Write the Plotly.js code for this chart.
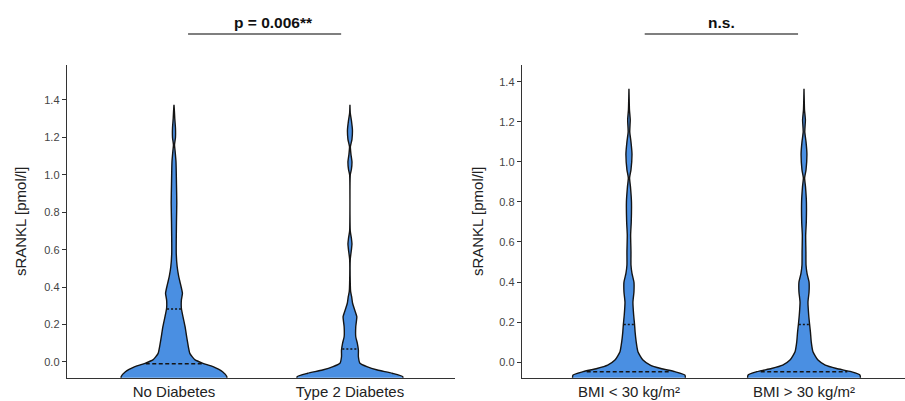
<!DOCTYPE html>
<html>
<head>
<meta charset="utf-8">
<script src="https://cdn.plot.ly/plotly-3.0.1.min.js"></script>
<style>html,body{margin:0;padding:0;background:#fff}#chart{width:905px;height:401px}</style>
</head>
<body>
<div id="chart"></div>
<script>
// ---- categories ----
const leftCategories = ["No Diabetes", "Type 2 Diabetes"];
const rightCategories = ["BMI < 30 kg/m²", "BMI > 30 kg/m²"];
const yTickVals = [0.0, 0.2, 0.4, 0.6, 0.8, 1.0, 1.2, 1.4];
const yTitle = "sRANKL [pmol/l]";
const leftTest = "p = 0.006**";
const rightTest = "n.s.";

// ---- density profiles (sRANKL value, relative density 0-100) ----
const noDiabY = [-0.12,-0.078,-0.052,-0.025,-0.007,0.011,0.046,0.118,0.189,0.242,0.287,0.332,0.367,0.42,0.456,0.51,0.58,0.65,0.75,0.85,0.95,1.07,1.13,1.16,1.2,1.25,1.30,1.34,1.374];
const noDiabD = [100,100,92,74,55,40,30,25,21,17,14,14,16,12,9,6,4.3,4.3,4.7,5.3,4.7,3.8,2,1,2.8,2.8,1.5,0.8,0];

const t2dY = [-0.12,-0.078,-0.06,-0.043,-0.025,-0.007,0.028,0.064,0.1,0.135,0.189,0.242,0.278,0.314,0.349,0.376,0.42,0.55,0.6,0.63,0.66,0.70,1.0,1.03,1.07,1.11,1.15,1.19,1.24,1.29,1.33,1.374];
const t2dD = [100,100,80,52,32,19,16,16,14,11,11,13,9,5,3.2,1.3,0.6,0.6,2.8,3.8,2.8,0.6,0.6,2.8,3.8,1.9,0.8,3.8,4.7,2.8,0.6,0];

const bmiLowY = [-0.12,-0.065,-0.048,-0.032,-0.015,0.01,0.052,0.10,0.15,0.188,0.235,0.30,0.35,0.40,0.443,0.485,0.55,0.635,0.70,0.80,0.875,0.92,0.96,1.04,1.10,1.15,1.21,1.26,1.30,1.365];
const bmiLowD = [100,100,82,57,38,25,16,13,11,10,8.4,7.1,8.9,8.9,5.4,3.6,3.6,3,4.1,4.5,2.7,1.1,3.6,5.4,3.6,1.4,2.3,0.9,0.5,0];

const bmiHighY = [-0.12,-0.065,-0.048,-0.032,-0.015,0.01,0.052,0.10,0.15,0.188,0.235,0.30,0.35,0.40,0.443,0.485,0.55,0.635,0.70,0.80,0.875,0.92,0.96,1.04,1.10,1.15,1.21,1.26,1.30,1.365];
const bmiHighD = [100,100,84,58,38,25,16,13,11.5,10,8.4,7.1,9,9,5.4,3.6,3.4,3,4.1,4.3,2.7,1.1,3.6,5.2,3.6,1.4,2.5,0.9,0.5,0];

// ---- quantiles (25 %, median, 75 %) ----
const noDiabQ = [-0.10, -0.01, 0.283];
const t2dQ = [-0.12, -0.095, 0.07];
const bmiLowQ = [-0.10, -0.048, 0.188];
const bmiHighQ = [-0.10, -0.048, 0.188];

// ---- drawing ----
const FILL = "#4a8fe2";
const EDGE = "#141414";

function interp(ys, ds, v) {
  if (v <= ys[0]) return ds[0];
  for (let i = 1; i < ys.length; i++) {
    if (v <= ys[i]) {
      const t = (v - ys[i-1]) / (ys[i] - ys[i-1]);
      return ds[i-1] + t * (ds[i] - ds[i-1]);
    }
  }
  return ds[ds.length-1];
}

function violin(ys, ds, center, scale, xa, ya) {
  const xs = [], yy = [];
  for (let i = 0; i < ys.length; i++) { xs.push(center + ds[i] / 100 * scale); yy.push(ys[i]); }
  for (let i = ys.length - 1; i >= 0; i--) { xs.push(center - ds[i] / 100 * scale); yy.push(ys[i]); }
  return {type: "scatter", mode: "lines", x: xs, y: yy, xaxis: xa, yaxis: ya,
    fill: "toself", fillcolor: FILL, line: {color: EDGE, width: 1.4, shape: "spline", smoothing: 0.5},
    hoverinfo: "skip", showlegend: false};
}

function quantLines(ys, ds, q, center, scale, xa, ya) {
  const out = [];
  q.forEach((v, k) => {
    const w = interp(ys, ds, v) / 100 * scale * 0.92;
    out.push({type: "scatter", mode: "lines", x: [center - w, center + w], y: [v, v], xaxis: xa, yaxis: ya,
      line: {color: EDGE, width: 1.5, dash: k === 1 ? "4px,2.5px" : "2px,2px"},
      hoverinfo: "skip", showlegend: false});
  });
  return out;
}

const LS = 0.30, RS = 0.32;
const traces = [
  violin(noDiabY, noDiabD, 0, LS, "x", "y"),
  violin(t2dY, t2dD, 1, LS, "x", "y"),
  violin(bmiLowY, bmiLowD, 0, RS, "x2", "y2"),
  violin(bmiHighY, bmiHighD, 1, RS, "x2", "y2"),
  ...quantLines(noDiabY, noDiabD, noDiabQ, 0, LS, "x", "y"),
  ...quantLines(t2dY, t2dD, t2dQ, 1, LS, "x", "y"),
  ...quantLines(bmiLowY, bmiLowD, bmiLowQ, 0, RS, "x2", "y2"),
  ...quantLines(bmiHighY, bmiHighD, bmiHighQ, 1, RS, "x2", "y2")
];

const FONT = "Liberation Sans, Arial, sans-serif";
const yDomain = [1 - 377.7/401, 1 - 65/401];

function xAxis(domain, range, cats) {
  return {domain: domain, range: range, tickvals: [0, 1], ticktext: cats,
    showline: true, linecolor: "#333", linewidth: 1.3, ticks: "", zeroline: false, showgrid: false,
    tickfont: {family: FONT, size: 15, color: "#222"}, fixedrange: true};
}
function yAxis(domain, range, anchor, standoff) {
  return {domain: domain, range: range, anchor: anchor, tickvals: yTickVals, tickformat: ".1f",
    showline: true, linecolor: "#333", linewidth: 1.3, ticks: "outside", ticklen: 4, tickcolor: "#333",
    zeroline: false, showgrid: false, tickfont: {family: FONT, size: 11, color: "#444"},
    title: {text: yTitle, font: {family: FONT, size: 15, color: "#222"}, standoff: standoff}, fixedrange: true};
}

const layout = {
  width: 905, height: 401,
  margin: {l: 0, r: 0, t: 0, b: 0},
  paper_bgcolor: "#fff", plot_bgcolor: "#fff",
  xaxis: Object.assign(xAxis([67/905, 455/905], [-0.608, 1.597], leftCategories), {anchor: "y"}),
  yaxis: yAxis(yDomain, [-0.084, 1.587], "x", 14),
  xaxis2: Object.assign(xAxis([522/905, 1], [-0.611, 1.577], rightCategories), {anchor: "y2"}),
  yaxis2: yAxis(yDomain, [-0.078, 1.484], "x2", 12),
  shapes: [
    {type: "line", xref: "x", yref: "paper", x0: 0.08, x1: 0.95, y0: 1 - 34/401, y1: 1 - 34/401, line: {color: "#555", width: 1.5}},
    {type: "line", xref: "x2", yref: "paper", x0: 0.09, x1: 0.966, y0: 1 - 34/401, y1: 1 - 34/401, line: {color: "#555", width: 1.5}}
  ],
  annotations: [
    {xref: "x", yref: "paper", x: 0.568, y: 1 - 23/401, text: "<b>" + leftTest + "</b>", showarrow: false,
      font: {family: FONT, size: 15.5, color: "#111"}, yanchor: "middle"},
    {xref: "x2", yref: "paper", x: 0.53, y: 1 - 23/401, text: "<b>" + rightTest + "</b>", showarrow: false,
      font: {family: FONT, size: 15.5, color: "#111"}, yanchor: "middle"}
  ],
  showlegend: false
};

Plotly.newPlot("chart", traces, layout, {displayModeBar: false, staticPlot: true});
</script>
</body>
</html>
